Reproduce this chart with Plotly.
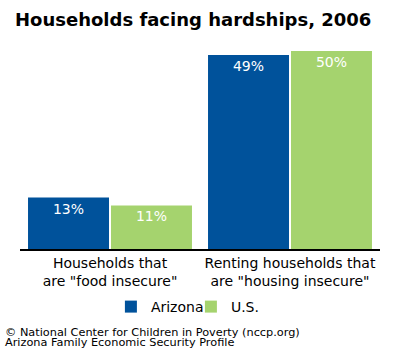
import plotly.graph_objects as go

categories = ['Households that<br>are "food insecure"', 'Renting households that<br>are "housing insecure"']
series_names = ["Arizona", "U.S."]
arizona = [13, 49]
us = [11, 50]
colors = ["#00529B", "#A5D36E"]
footer_lines = ["© National Center for Children in Poverty (nccp.org)",
                "Arizona Family Economic Security Profile"]

FONT = "DejaVu Sans"

fig = go.Figure()
for name, vals, col in zip(series_names, [arizona, us], colors):
    fig.add_trace(go.Bar(
        x=categories, y=vals, name=name, marker=dict(color=col, line=dict(width=0)),
        text=[f"{v}%" for v in vals], textposition="inside", insidetextanchor="end",
        textfont=dict(color="white", size=14, family=FONT),
        textangle=0,
    ))

fig.update_layout(
    width=400, height=350,
    margin=dict(l=20, r=20, t=51, b=101, autoexpand=False),
    paper_bgcolor="white", plot_bgcolor="white",
    barmode="group", bargap=0.078, bargroupgap=0.024,
    font=dict(family=FONT, size=14, color="black"),
    title=dict(text="<b>Households facing hardships, 2006</b>", x=15/400, xref="container", xanchor="left",
               y=1-20/350, yref="container", yanchor="middle",
               font=dict(family=FONT, size=18, color="black")),
    showlegend=True,
    legend=dict(orientation="h", x=101/400, xanchor="left", y=1-307/350, yref="container", yanchor="middle",
                entrywidth=35, entrywidthmode="pixels",
                font=dict(family=FONT, size=14, color="black"), traceorder="normal"),
    uniformtext=dict(minsize=8, mode="show"),
)
fig.update_xaxes(showline=True, linecolor="black", linewidth=2, ticks="", showgrid=False, automargin=False,
                 tickfont=dict(family=FONT, size=14, color="black"))
fig.update_yaxes(range=[0, 50], visible=False, showgrid=False, automargin=False)

for i, line in enumerate(footer_lines):
    fig.add_annotation(text=line, xref="paper", yref="paper", x=(3-20)/360, y=(249-(332+10*i))/198,
                       xanchor="left", yanchor="middle", align="left", showarrow=False,
                       font=dict(family=FONT, size=11.3, color="black"))

fig.write_html("out.html")
